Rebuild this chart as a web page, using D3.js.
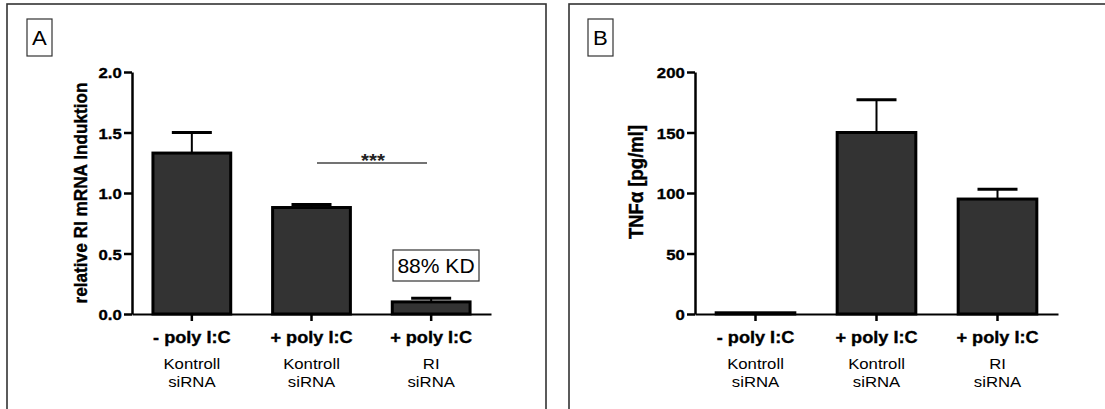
<!DOCTYPE html>
<html>
<head>
<meta charset="utf-8">
<script src="https://cdn.jsdelivr.net/npm/d3@7"></script>
<style>
  body { margin: 0; background: #fff; }
  svg { display: block; font-family: "Liberation Sans", Arial, sans-serif; }
</style>
</head>
<body>
<script>
// data
const categories = ["- poly I:C", "+ poly I:C", "+ poly I:C"];
const subLabels = [["Kontroll", "siRNA"], ["Kontroll", "siRNA"], ["RI", "siRNA"]];

const mrnaMean = [1.33, 0.88, 0.10];
const mrnaErr = [0.17, 0.025, 0.03];
const mrnaTicks = [0, 0.5, 1.0, 1.5, 2.0];

const tnfMean = [1, 150, 95];
const tnfErr = [0, 27, 8];
const tnfTicks = [0, 50, 100, 150, 200];

const SX = 1.08; // the picture is slightly wider than tall

const svg = d3.select("body").append("svg")
    .attr("width", 1105)
    .attr("height", 409);

function txt(g, x, y, s, size, weight, anchor, rot) {
  const t = g.append("text")
      .attr("transform", `translate(${x},${y}) scale(${SX},1)` + (rot ? ` rotate(${rot})` : ""))
      .attr("text-anchor", anchor || "middle")
      .style("font-size", size + "px")
      .style("font-weight", weight || "normal")
      .attr("fill", "#000")
      .text(s);
  if (weight === "bold") t.attr("stroke", "#000").attr("stroke-width", 0.35);
  return t;
}

function drawPanel(p) {
  const g = svg.append("g");

  // panel frame (bottom/right run off the picture)
  g.append("rect")
      .attr("x", p.frame[0]).attr("y", 4)
      .attr("width", p.frame[1] - p.frame[0]).attr("height", 460)
      .attr("fill", "none").attr("stroke", "#333").attr("stroke-width", 1.6);

  // letter box
  g.append("rect")
      .attr("x", p.box[0]).attr("y", 19)
      .attr("width", 25).attr("height", 37)
      .attr("fill", "#fff").attr("stroke", "#333").attr("stroke-width", 1.2);
  txt(g, p.box[0] + 12.5, 45, p.letter, 20.5);

  const y = d3.scaleLinear().domain(p.domain).range([314, 72]);
  const x = d3.scaleBand().domain(d3.range(categories.length))
      .range([p.x0, p.x1]).paddingInner(0.35).paddingOuter(0.175);

  // bars
  g.selectAll(".bar").data(p.mean).join("rect")
      .attr("x", (d, i) => x(i))
      .attr("y", d => y(d))
      .attr("width", x.bandwidth())
      .attr("height", d => y(0) - y(d))
      .attr("fill", "#333")
      .attr("stroke", "#000")
      .attr("stroke-width", 3);

  // error bars
  p.mean.forEach((m, i) => {
    if (!p.err[i]) return;
    const cx = x(i) + x.bandwidth() / 2;
    g.append("line")
        .attr("x1", cx).attr("x2", cx)
        .attr("y1", y(m)).attr("y2", y(m + p.err[i]))
        .attr("stroke", "#000").attr("stroke-width", 2);
    g.append("line")
        .attr("x1", cx - 20).attr("x2", cx + 20)
        .attr("y1", y(m + p.err[i])).attr("y2", y(m + p.err[i]))
        .attr("stroke", "#000").attr("stroke-width", 3);
  });

  // y axis
  const ya = g.append("g")
      .attr("transform", `translate(${p.x0},0)`)
      .call(d3.axisLeft(y).tickValues(p.ticks).tickSize(8).tickSizeOuter(0).tickFormat(p.fmt));
  ya.attr("font-size", null).attr("font-family", null);
  ya.select(".domain").attr("stroke", "#000").attr("stroke-width", 2.5);
  ya.selectAll(".tick line").attr("stroke", "#000").attr("stroke-width", 2.5);
  ya.selectAll(".tick text")
      .attr("x", -9.5)
      .attr("dy", "0.36em")
      .attr("transform", `scale(${SX},1)`)
      .style("font-size", "15.5px")
      .style("font-weight", "bold")
      .attr("stroke", "#000").attr("stroke-width", 0.35)
      .attr("fill", "#000");

  // x axis
  const xa = g.append("g")
      .attr("transform", `translate(0,${y(0)})`)
      .call(d3.axisBottom(x).tickSize(7).tickSizeOuter(0).tickFormat(""));
  xa.select(".domain").attr("stroke", "#000").attr("stroke-width", 2);
  xa.selectAll(".tick line").attr("stroke", "#000").attr("stroke-width", 2.5);

  categories.forEach((c, i) => {
    const cx = x(i) + x.bandwidth() / 2;
    txt(g, cx, 343, c, 16.8, "bold");
    txt(g, cx, 369, subLabels[i][0], 15.5);
    txt(g, cx, 387, subLabels[i][1], 15.5);
  });

  // y title
  txt(g, p.titleX, p.titleY, p.title, p.titleSize, "bold", "middle", -90);

  return { g, x, y };
}

const A = drawPanel({
  frame: [7, 546], box: [27], letter: "A",
  domain: [0, 2], ticks: mrnaTicks, fmt: d3.format(".1f"),
  x0: 132, x1: 491,
  mean: mrnaMean, err: mrnaErr,
  title: "relative RI mRNA Induktion", titleX: 87, titleY: 193, titleSize: 17.2
});

const B = drawPanel({
  frame: [569, 1160], box: [588], letter: "B",
  domain: [0, 200], ticks: tnfTicks, fmt: d3.format("d"),
  x0: 695, x1: 1058,
  mean: tnfMean, err: tnfErr,
  title: "TNF\u03b1 [pg/ml]", titleX: 643, titleY: 182, titleSize: 18.5
});

// significance marker between bar 2 and 3 in A
A.g.append("line")
    .attr("x1", 317).attr("x2", 427)
    .attr("y1", 163).attr("y2", 163)
    .attr("stroke", "#444").attr("stroke-width", 1.5);
txt(A.g, 373, 167, "***", 19, "bold").attr("fill", "#222").attr("stroke-width", 0);

// knockdown box
A.g.append("rect")
    .attr("x", 393).attr("y", 250).attr("width", 86).attr("height", 31)
    .attr("fill", "#fff").attr("stroke", "#333").attr("stroke-width", 1.2);
txt(A.g, 436, 273, "88% KD", 19.5);
</script>
</body>
</html>
